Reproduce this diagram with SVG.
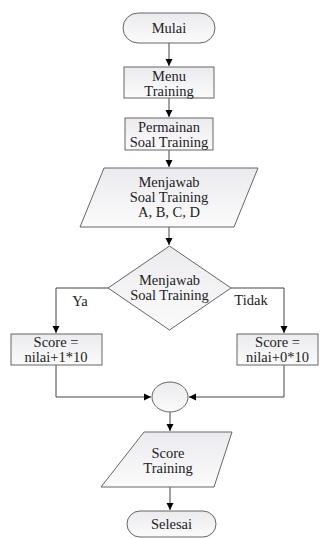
<svg xmlns="http://www.w3.org/2000/svg" width="321" height="538" viewBox="0 0 321 538">
<defs>
<linearGradient id="g" x1="0" y1="0" x2="0" y2="1">
<stop offset="0" stop-color="#ebebef"/>
<stop offset="1" stop-color="#fbfbfb"/>
</linearGradient>
<marker id="ah" markerWidth="8" markerHeight="8" refX="7" refY="4" orient="auto" markerUnits="userSpaceOnUse">
<path d="M0,0.5 L7,4 L0,7.5 Z" fill="#000"/>
</marker>
<style>
.s{fill:url(#g);stroke:#666;stroke-width:1}
.t{font-family:'Liberation Serif','Times New Roman',serif;font-size:14.5px;fill:#222;text-anchor:middle;dominant-baseline:central}
.c{fill:none;stroke:#444;stroke-width:1;marker-end:url(#ah)}
</style>
</defs>
<rect width="321" height="538" fill="#fff"/>
<g id="connectors">
<path class="c" d="M169,43 V66"/>
<path class="c" d="M169,98 V117"/>
<path class="c" d="M169,150 V167"/>
<path class="c" d="M169,227 V245"/>
<path class="c" d="M108,288 H56 V333"/>
<path class="c" d="M231,288 H284 V333"/>
<path class="c" d="M56,365 V397 H151"/>
<path class="c" d="M284,365 V397 H189"/>
<path class="c" d="M170,412 V431"/>
<path class="c" d="M170,487 V510"/>
</g>
<g id="mulai"><rect class="s" x="123" y="13" width="92" height="30" rx="15"/><text class="t" x="169" y="28">Mulai</text></g>
<g id="menu"><rect class="s" x="124" y="67" width="90" height="31"/><text class="t" x="169" y="76">Menu</text><text class="t" x="169" y="91">Training</text></g>
<g id="permainan"><rect class="s" x="125" y="118" width="88" height="32"/><text class="t" x="169" y="127">Permainan</text><text class="t" x="169" y="142">Soal Training</text></g>
<g id="jawab"><polygon class="s" points="104,168 258,168 234,227 80,227"/><text class="t" x="169" y="182">Menjawab</text><text class="t" x="169" y="197">Soal Training</text><text class="t" x="169" y="212">A, B, C, D</text></g>
<g id="decision"><polygon class="s" points="169.5,246 231,288 169.5,330 108,288"/><text class="t" x="169.5" y="280">Menjawab</text><text class="t" x="169.5" y="295">Soal Training</text></g>
<g id="labels"><text class="t" x="80" y="301">Ya</text><text class="t" x="251" y="300">Tidak</text></g>
<g id="benar"><rect class="s" x="11" y="334" width="91" height="31"/><text class="t" x="56" y="342">Score =</text><text class="t" x="56" y="357">nilai+1*10</text></g>
<g id="salah"><rect class="s" x="237" y="334" width="81" height="31"/><text class="t" x="277.5" y="342">Score =</text><text class="t" x="277.5" y="357">nilai+0*10</text></g>
<g id="join"><ellipse class="s" cx="170" cy="397" rx="18" ry="15"/></g>
<g id="score"><polygon class="s" points="144,432 232,432 214,487 101,487"/><text class="t" x="168" y="453">Score</text><text class="t" x="168" y="468">Training</text></g>
<g id="selesai"><rect class="s" x="127" y="511" width="89" height="26" rx="13"/><text class="t" x="171.5" y="524">Selesai</text></g>
</svg>
